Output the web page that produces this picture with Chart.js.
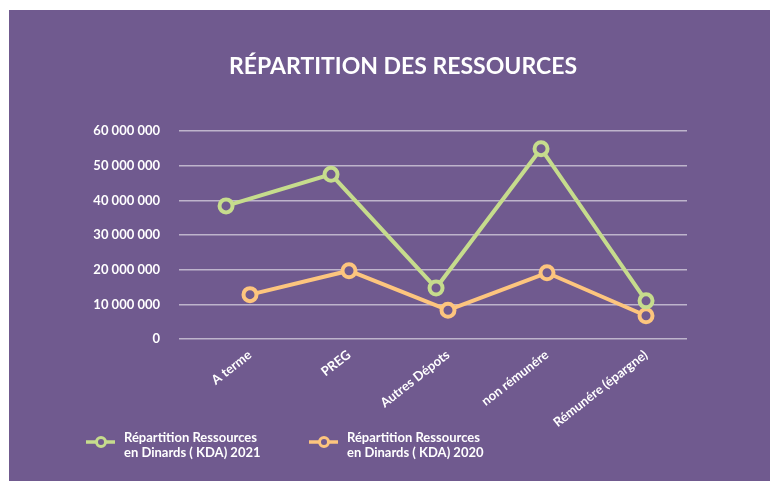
<!DOCTYPE html>
<html>
<head>
<meta charset="utf-8">
<script src="https://cdn.jsdelivr.net/npm/chart.js@4.4.0/dist/chart.umd.min.js"></script>
<style>
    html, body { margin: 0; padding: 0; background: #ffffff; }
    #panel {
        position: absolute;
        left: 9px;
        top: 10px;
        width: 761px;
        height: 471px;
        background: #705a8f;
    }
</style>
</head>
<body>
<div id="panel">
    <canvas id="resChart" width="761" height="471"></canvas>
</div>
<script>
// Data
const categories = ['A terme', 'PREG', 'Autres Dépots', 'non rémunére', 'Rémunére (épargne)'];
const res2021 = [38400000, 47500000, 14700000, 54900000, 11000000];
const res2020 = [12800000, 19700000, 8300000, 19100000, 6700000];
const yTicks = [0, 10000000, 20000000, 30000000, 40000000, 50000000, 60000000];
const seriesNames = [
    ['Répartition Ressources', 'en Dinards ( KDA) 2021'],
    ['Répartition Ressources', 'en Dinards ( KDA) 2020']
];

const PURPLE = '#705a8f';
const GREEN = '#c6dc8d';
const ORANGE = '#fdc57e';
const FONT = 'Lato, "Open Sans", sans-serif';

function spaced(v) {
    return String(v).replace(/\B(?=(\d{3})+(?!\d))/g, ' ');
}

// legend drawn by hand, the built-in one can't do two-line labels
const twoLineLegend = {
    id: 'twoLineLegend',
    afterDraw(chart) {
        const ctx = chart.ctx;
        const items = [
            { x: 77, color: GREEN, text: seriesNames[0] },
            { x: 300, color: ORANGE, text: seriesNames[1] }
        ];
        const y = 432;
        ctx.save();
        items.forEach(function(it) {
            ctx.strokeStyle = it.color;
            ctx.lineWidth = 3.5;
            ctx.beginPath();
            ctx.moveTo(it.x, y);
            ctx.lineTo(it.x + 29, y);
            ctx.stroke();
            ctx.fillStyle = PURPLE;
            ctx.lineWidth = 3;
            ctx.beginPath();
            ctx.arc(it.x + 15, y, 4.5, 0, Math.PI * 2);
            ctx.fill();
            ctx.stroke();
            ctx.fillStyle = '#ffffff';
            ctx.font = 'bold 13px ' + FONT;
            ctx.textAlign = 'left';
            ctx.textBaseline = 'middle';
            ctx.fillText(it.text[0], it.x + 38, y - 4);
            ctx.fillText(it.text[1], it.x + 38, y + 11);
        });
        ctx.restore();
    }
};

const ctx = document.getElementById('resChart').getContext('2d');
const resChart = new Chart(ctx, {
    type: 'line',
    data: {
        labels: categories,
        datasets: [{
            label: seriesNames[0].join(' '),
            data: res2021.map(function(v, i) { return { x: i, y: v }; }),
            xAxisID: 'xg',
            borderColor: GREEN,
            borderWidth: 4,
            pointRadius: 6.5,
            pointHoverRadius: 6.5,
            pointBorderWidth: 4,
            pointBackgroundColor: PURPLE,
            pointBorderColor: GREEN,
            tension: 0
        }, {
            label: seriesNames[1].join(' '),
            data: res2020.map(function(v, i) { return { x: i, y: v }; }),
            xAxisID: 'xo',
            borderColor: ORANGE,
            borderWidth: 4,
            pointRadius: 6.5,
            pointHoverRadius: 6.5,
            pointBorderWidth: 4,
            pointBackgroundColor: PURPLE,
            pointBorderColor: ORANGE,
            tension: 0
        }]
    },
    options: {
        responsive: false,
        animation: false,
        layout: {
            padding: { left: 27, right: 0, top: 0, bottom: 32 }
        },
        plugins: {
            legend: { display: false },
            tooltip: { enabled: false },
            title: {
                display: true,
                text: 'RÉPARTITION DES RESSOURCES',
                color: '#ffffff',
                font: { family: FONT, size: 23, weight: 'bold', lineHeight: 1.2 },
                padding: { top: 43, bottom: 50.4 }
            }
        },
        scales: {
            xg: {
                type: 'linear',
                display: false,
                min: -0.448,
                max: 4.39
            },
            xo: {
                type: 'linear',
                position: 'bottom',
                min: -0.717,
                max: 4.414,
                afterBuildTicks: function(axis) {
                    axis.ticks = categories.map(function(c, i) { return { value: i }; });
                },
                afterFit: function(axis) {
                    axis.height = 110;
                },
                grid: { display: false },
                border: { display: false },
                ticks: {
                    autoSkip: false,
                    minRotation: 38,
                    maxRotation: 38,
                    padding: 0,
                    color: '#ffffff',
                    font: { family: FONT, size: 13, weight: 'bold' },
                    callback: function(value) {
                        return categories[value];
                    }
                }
            },
            y: {
                min: 0,
                max: 60000000,
                afterBuildTicks: function(axis) {
                    axis.ticks = yTicks.map(function(v) { return { value: v }; });
                },
                afterFit: function(axis) {
                    axis.width = 143;
                },
                border: { display: false },
                grid: {
                    color: 'rgba(255, 255, 255, 0.55)',
                    lineWidth: 1.5,
                    drawTicks: false
                },
                ticks: {
                    padding: 19,
                    color: '#ffffff',
                    font: { family: FONT, size: 13, weight: 'bold' },
                    callback: function(value) {
                        return spaced(value);
                    }
                }
            },
            // empty axis, only keeps the space right of the plot
            yr: {
                type: 'linear',
                position: 'right',
                afterFit: function(axis) {
                    axis.width = 83;
                },
                grid: { display: false },
                border: { display: false },
                ticks: { display: false }
            }
        }
    },
    plugins: [twoLineLegend]
});
</script>
</body>
</html>
